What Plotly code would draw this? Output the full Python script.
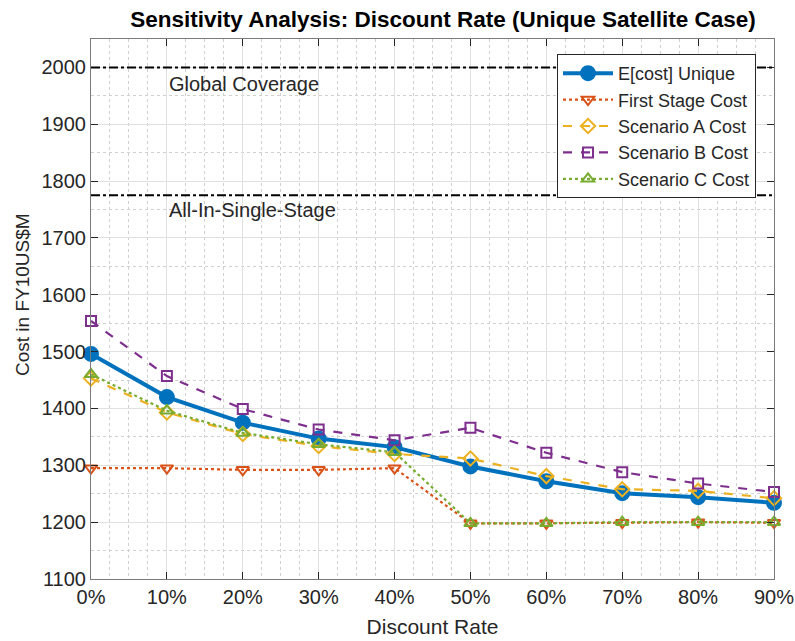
import plotly.graph_objects as go

discount_rate = [0, 10, 20, 30, 40, 50, 60, 70, 80, 90]
e_cost_unique = [1496, 1420, 1375, 1347, 1332, 1298, 1272, 1251, 1244, 1234]
first_stage = [1295, 1295, 1292, 1292, 1295, 1198, 1198, 1199, 1200, 1199]
scenario_a = [1453, 1393, 1355, 1334, 1320, 1312, 1281, 1258, 1255, 1242]
scenario_b = [1554, 1457, 1399, 1363, 1344, 1366, 1322, 1288, 1268, 1253]
scenario_c = [1460, 1396, 1357, 1337, 1323, 1198, 1198, 1200, 1200, 1200]

ref_levels = [2000, 1775]
ref_labels = ["Global Coverage", "All-In-Single-Stage"]
ref_label_y = [1970, 1750]
ref_label_x = 10

x_ticks = [0, 10, 20, 30, 40, 50, 60, 70, 80, 90]
y_ticks = [1100, 1200, 1300, 1400, 1500, 1600, 1700, 1800, 1900, 2000]

FONT = "Liberation Sans, Arial, sans-serif"
W, H = 795, 641
L, R, T, B = 91, 21, 39, 62
PW, PH = W - L - R, H - T - B

fig = go.Figure()

series = [
    ("E[cost] Unique", e_cost_unique, "#0072BD", "solid", 4, "circle", 14),
    ("First Stage Cost", first_stage, "#D95319", "dot", 2.2, "triangle-down-open", 11),
    ("Scenario A Cost", scenario_a, "#EDB120", "dash", 2.2, "diamond-open", 11),
    ("Scenario B Cost", scenario_b, "#7E2F8E", "dash", 2.2, "square-open", 10),
    ("Scenario C Cost", scenario_c, "#77AC30", "dot", 2.2, "triangle-up-open", 11),
]

for name, ys, color, dash, width, symbol, size in series:
    fig.add_trace(go.Scatter(
        x=discount_rate, y=ys, name=name, mode="lines+markers",
        line=dict(color=color, dash=dash, width=width),
        marker=dict(symbol=symbol, size=size, color=color,
                    line=dict(color=color, width=2)),
        cliponaxis=False,
    ))

for lvl, lab, ly in zip(ref_levels, ref_labels, ref_label_y):
    fig.add_hline(y=lvl, line=dict(color="black", dash="dashdot", width=2))
    fig.add_annotation(x=ref_label_x, y=ly, text=lab, showarrow=False,
                       xanchor="left", yanchor="middle",
                       font=dict(family=FONT, size=20, color="#262626"))

# y-axis label placed as in the reference
fig.add_annotation(text="Cost in FY10US$M", textangle=-90, showarrow=False,
                   xref="paper", yref="paper",
                   x=(22 - L) / PW, y=(H - B - 295) / PH,
                   xanchor="center", yanchor="middle",
                   font=dict(family=FONT, size=19, color="#262626"))

fig.update_layout(
    width=W, height=H,
    margin=dict(l=L, r=R, t=T, b=B),
    paper_bgcolor="white", plot_bgcolor="white",
    font=dict(family=FONT, color="#262626"),
    title=dict(text="<b>Sensitivity Analysis: Discount Rate (Unique Satellite Case)</b>",
               x=443 / W, xanchor="center", y=1 - 19 / H, yanchor="middle",
               font=dict(family=FONT, size=22.5, color="black")),
    legend=dict(x=(756 - L) / PW, xanchor="right",
                y=1 - (54 - T) / PH, yanchor="top",
                bgcolor="white", bordercolor="#262626", borderwidth=1,
                font=dict(family=FONT, size=18, color="#262626"),
                itemwidth=50, tracegroupgap=0),
    showlegend=True,
)

axis_common = dict(
    showline=True, linecolor="#7a7a7a", linewidth=1.2, mirror="ticks",
    ticks="inside", ticklen=7, tickcolor="#262626", tickwidth=1,
    showgrid=True, gridcolor="#e0e0e0", gridwidth=1, zeroline=False,
    tickfont=dict(family=FONT, size=20, color="#262626"),
    automargin=False,
)

fig.update_xaxes(
    range=[0, 90], tickvals=x_ticks, ticktext=[f"{v}%" for v in x_ticks],
    title=dict(text="Discount Rate", font=dict(family=FONT, size=21, color="#262626"), standoff=12),
    minor=dict(dtick=2.5, showgrid=True, gridcolor="#d0d0d0", griddash="dot", ticks=""),
    **axis_common,
)
fig.update_yaxes(
    range=[1100, 2050], tickvals=y_ticks,
    minor=dict(dtick=50, showgrid=True, gridcolor="#d0d0d0", griddash="dot", ticks=""),
    **axis_common,
)

fig.write_html("out.html")
